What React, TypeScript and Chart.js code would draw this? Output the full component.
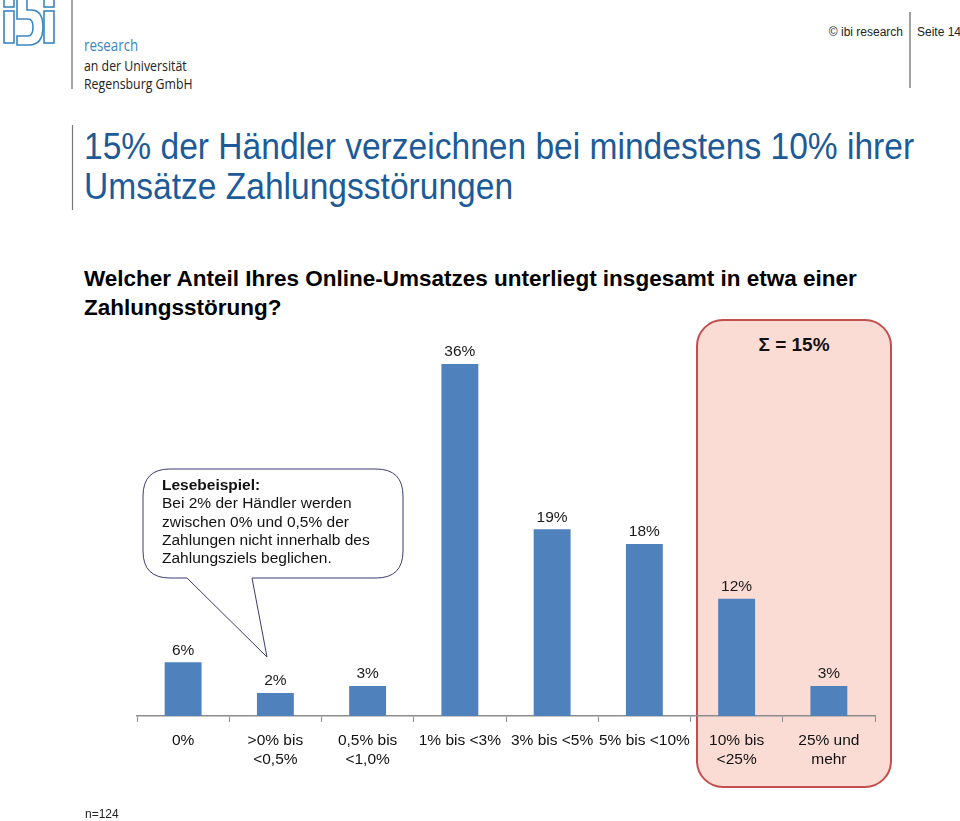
import React, { useEffect, useRef } from "react";
import { Chart, registerables } from "chart.js";

Chart.register(...registerables);

const categories: string[][] = [
  ["0%"],
  [">0% bis", "<0,5%"],
  ["0,5% bis", "<1,0%"],
  ["1% bis <3%"],
  ["3% bis <5%"],
  ["5% bis <10%"],
  ["10% bis", "<25%"],
  ["25% und", "mehr"],
];
const shares: number[] = [5.5, 2.35, 3.07, 36, 19.1, 17.6, 12, 3.07];
const shareLabels: string[] = ["6%", "2%", "3%", "36%", "19%", "18%", "12%", "3%"];

const FONT = "'Liberation Sans', Arial, Helvetica, sans-serif";

const valueLabelPlugin = {
  id: "valueLabels",
  afterDatasetsDraw(chart: any) {
    const ctx = chart.ctx;
    const meta = chart.getDatasetMeta(0);
    ctx.save();
    ctx.font = `15.5px ${FONT}`;
    ctx.fillStyle = "#1a1a1a";
    ctx.textAlign = "center";
    ctx.textBaseline = "middle";
    meta.data.forEach((bar: any, i: number) => {
      ctx.fillText(shareLabels[i], bar.x, bar.y - 12);
    });
    ctx.restore();
  },
};

function BarChart() {
  const ref = useRef<HTMLCanvasElement | null>(null);
  useEffect(() => {
    if (!ref.current) return;
    const chart = new Chart(ref.current, {
      type: "bar",
      data: {
        labels: categories,
        datasets: [
          {
            data: shares,
            backgroundColor: "#4f81bd",
            borderWidth: 0,
            barPercentage: 0.4,
            categoryPercentage: 1,
          },
        ],
      },
      options: {
        responsive: false,
        animation: false,
        layout: { padding: { left: 137, right: 85, top: 325, bottom: 0 } },
        plugins: { legend: { display: false }, tooltip: { enabled: false } },
        scales: {
          x: {
            grid: {
              display: true,
              drawOnChartArea: false,
              drawTicks: true,
              tickLength: 6,
              color: "#8c8c8c",
              offset: true,
            },
            border: { display: true, color: "#8c8c8c", width: 1.5 },
            ticks: {
              font: { family: FONT, size: 15.5, lineHeight: 1.18 },
              color: "#111",
              padding: 10,
              maxRotation: 0,
              autoSkip: false,
            },
            afterFit: (s: any) => {
              s.height = 105;
            },
          },
          y: { display: false, min: 0, max: 40 },
        },
      },
      plugins: [valueLabelPlugin],
    });
    return () => chart.destroy();
  }, []);
  return (
    <canvas
      ref={ref}
      width={960}
      height={821}
      style={{ position: "absolute", left: 0, top: 0, width: 960, height: 821 }}
    />
  );
}

export default function App() {
  useEffect(() => {
    document.body.style.margin = "0";
  }, []);
  const abs: React.CSSProperties = { position: "absolute", whiteSpace: "nowrap" };
  return (
    <div
      style={{
        position: "absolute",
        left: 0,
        top: 0,
        width: 960,
        height: 821,
        background: "#ffffff",
        overflow: "hidden",
        fontFamily: FONT,
      }}
    >
      {/* logo */}
      <svg width={960} height={821} style={{ position: "absolute", left: 0, top: 0 }}>
        <g fill="none" stroke="#3a86c0" strokeWidth={1.6}>
          <rect x={4} y={-2} width={10} height={9} />
          <rect x={4} y={11} width={10} height={32} />
          <path d="M17,-2 L27,-2 L27,10 L31,10 Q43,10 43,27 Q43,45 29,45 L17,45 L17,36 L28,36 Q33,36 33,27 Q33,19 28,19 L17,19 Z" />
          <rect x={44} y={-2} width={10} height={9} />
          <rect x={44} y={11} width={10} height={32} />
        </g>
        <line x1={72} y1={0} x2={72} y2={89} stroke="#8a8a8a" strokeWidth={1.5} />
        <line x1={910} y1={12} x2={910} y2={88} stroke="#444" strokeWidth={1} />
        <line x1={72.5} y1={125} x2={72.5} y2={210} stroke="#777" strokeWidth={1.2} />
        {/* highlight box */}
        <rect x={697} y={320} width={194} height={467} rx={26} ry={26} fill="#fbdcd5" stroke="#c0504d" strokeWidth={2} />
      </svg>
      <div style={{ ...abs, left: 84, top: 34, fontSize: 15.5, color: "#3a86c0", fontFamily: "'Open Sans', sans-serif", transform: "scaleX(0.86)", transformOrigin: "left top" }}>research</div>
      <div style={{ ...abs, left: 84, top: 57, fontSize: 14, lineHeight: "18px", color: "#222", fontFamily: "'Open Sans', sans-serif", transform: "scaleX(0.88)", transformOrigin: "left top" }}>
        an der Universität
        <br />
        Regensburg GmbH
      </div>
      <div style={{ ...abs, right: 960 - 903, top: 25, fontSize: 12, color: "#222" }}>© ibi research</div>
      <div style={{ ...abs, left: 917, top: 25, fontSize: 12, color: "#222" }}>Seite 14</div>
      {/* title */}
      <div style={{ ...abs, left: 84, top: 127, fontSize: 37, lineHeight: "40px", color: "#1c5b98", transform: "scaleX(0.907)", transformOrigin: "left top" }}>
        15% der Händler verzeichnen bei mindestens 10% ihrer
        <br />
        Umsätze Zahlungsstörungen
      </div>
      <div style={{ ...abs, left: 84, top: 265, fontSize: 22.5, lineHeight: "28.5px", color: "#000", fontWeight: "bold" }}>
        Welcher Anteil Ihres Online-Umsatzes unterliegt insgesamt in etwa einer
        <br />
        Zahlungsstörung?
      </div>
      <div style={{ ...abs, left: 697, width: 194, top: 334, textAlign: "center", fontSize: 19, fontWeight: "bold", color: "#111" }}>
        Σ = 15%
      </div>
      <BarChart />
      {/* callout */}
      <svg width={960} height={821} style={{ position: "absolute", left: 0, top: 0 }}>
        <path
          d="M170,469 H376 Q403,469 403,496 V551 Q403,578 376,578 H252 L267,657 L187,578 H170 Q143,578 143,551 V496 Q143,469 170,469 Z"
          fill="#ffffff"
          stroke="#3b3b6e"
          strokeWidth={1}
        />
      </svg>
      <div style={{ ...abs, left: 162, top: 476, fontSize: 15.5, lineHeight: "18.3px", color: "#111" }}>
        <b>Lesebeispiel:</b>
        <br />
        Bei 2% der Händler werden
        <br />
        zwischen 0% und 0,5% der
        <br />
        Zahlungen nicht innerhalb des
        <br />
        Zahlungsziels beglichen.
      </div>
      <div style={{ ...abs, left: 85, top: 807, fontSize: 12, color: "#222" }}>n=124</div>
    </div>
  );
}
